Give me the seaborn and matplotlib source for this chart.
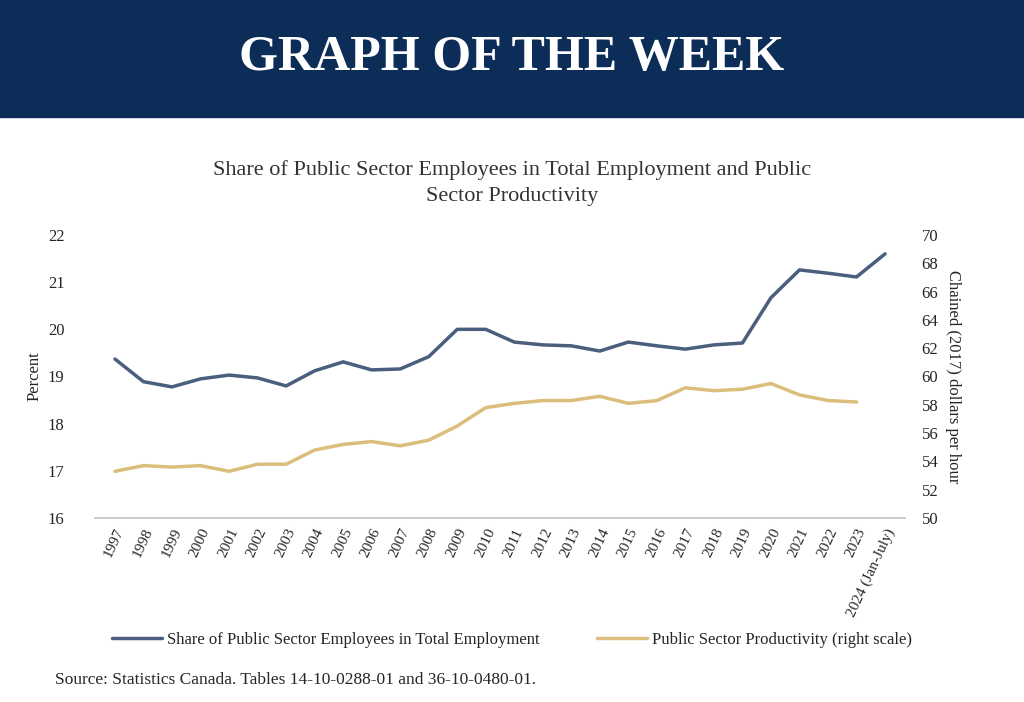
import matplotlib
matplotlib.use("Agg")
import matplotlib.pyplot as plt
import seaborn as sns
import pandas as pd

years = [str(y) for y in range(1997, 2024)] + ["2024 (Jan-July)"]
share = [19.37, 18.89, 18.78, 18.95, 19.03, 18.97, 18.80, 19.12, 19.31, 19.14,
         19.16, 19.42, 20.0, 20.0, 19.73, 19.67, 19.65, 19.54, 19.73, 19.65,
         19.58, 19.67, 19.71, 20.67, 21.26, 21.19, 21.11, 21.6]
productivity = [53.3, 53.7, 53.6, 53.7, 53.3, 53.8, 53.8, 54.8, 55.2, 55.4,
                55.1, 55.5, 56.5, 57.8, 58.1, 58.3, 58.3, 58.6, 58.1, 58.3,
                59.2, 59.0, 59.1, 59.5, 58.7, 58.3, 58.2]

sns.set_theme(style="white")
plt.rcParams['font.family'] = ['Liberation Serif', 'DejaVu Serif']

blue = "#4a5e7e"
tan = "#dcbe7c"
navy = "#0b2d57"

fig = plt.figure(figsize=(10.24, 7.02), dpi=100)
fig.patches.append(plt.Rectangle((0, 1 - 117 / 702), 1, 117 / 702, transform=fig.transFigure,
                                 color=navy, zorder=0))
fig.text(0.5, 1 - 58 / 702, "GRAPH OF THE WEEK", ha="center", va="center",
         color="white", fontsize=36, fontweight="bold")
fig.text(0.5, 1 - 183 / 702, "Share of Public Sector Employees in Total Employment and Public\nSector Productivity",
         ha="center", va="center", fontsize=16, color="#333333", linespacing=1.5)

ax = fig.add_axes([95 / 1024, 1 - 518 / 702, 810 / 1024, 283 / 702])
df1 = pd.DataFrame({"x": range(len(share)), "y": share})
df2 = pd.DataFrame({"x": range(len(productivity)), "y": productivity})
sns.lineplot(data=df1, x="x", y="y", ax=ax, color=blue, linewidth=2.5,
             label="Share of Public Sector Employees in Total Employment", legend=False)
ax.set_ylim(16, 22)
ax.set_xlim(-0.7, len(years) - 0.3)
ax.set_xticks(range(len(years)))
ax.set_xticklabels(years, rotation=65, ha="right", rotation_mode="anchor", fontsize=11)
ax.set_ylabel("Percent", fontsize=12)
ax.set_xlabel("")
ax.tick_params(axis="y", labelsize=12, length=0, pad=22)
ax.tick_params(axis="x", length=0, pad=6)

ax2 = ax.twinx()
sns.lineplot(data=df2, x="x", y="y", ax=ax2, color=tan, linewidth=2.5,
             label="Public Sector Productivity (right scale)", legend=False)
ax2.set_ylim(50, 70)
ax2.set_yticks(range(50, 71, 2))
ax2.set_ylabel("Chained (2017) dollars per hour", fontsize=12, rotation=270, labelpad=16)
ax2.tick_params(axis="y", labelsize=12, length=0, pad=12)

for a in (ax, ax2):
    for s in a.spines.values():
        s.set_visible(False)
    a.spines["bottom"].set_visible(True)
    a.spines["bottom"].set_color("#cccccc")

h1, l1 = ax.get_legend_handles_labels()
h2, l2 = ax2.get_legend_handles_labels()
fig.legend(h1 + h2, l1 + l2, loc="center", bbox_to_anchor=(0.5, 1 - 640 / 702), ncol=2,
           frameon=False, fontsize=12, handlelength=3, columnspacing=3.5, handletextpad=0.3)

fig.text(55 / 1024, 1 - 680 / 702, "Source: Statistics Canada. Tables 14-10-0288-01 and 36-10-0480-01.",
         fontsize=12.5, va="center")

fig.savefig("out.png", dpi=100)
